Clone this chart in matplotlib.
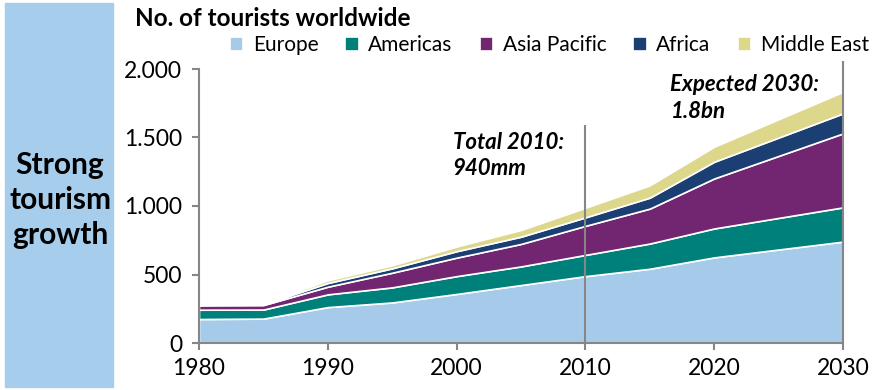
import matplotlib.pyplot as plt
from matplotlib.patches import Rectangle

plt.rcParams['font.family'] = ['Lato', 'DejaVu Sans']

years = [1980, 1985, 1990, 1995, 2000, 2005, 2010, 2015, 2020, 2030]
europe = [175, 178, 262, 296, 358, 423, 488, 542, 625, 740]
americas = [68, 66, 93, 110, 130, 136, 155, 184, 211, 250]
asia_pacific = [32, 33, 56, 107, 135, 164, 212, 255, 365, 540]
africa = [4, 6, 27, 32, 47, 53, 62, 80, 122, 146]
middle_east = [3, 5, 20, 22, 34, 49, 70, 90, 110, 157]

names = ['Europe', 'Americas', 'Asia Pacific', 'Africa', 'Middle East']
colors = ['#A6CBEA', '#00807A', '#722570', '#1B3F72', '#DDD78C']

yticks = [0, 500, 1000, 1500, 2000]
ytick_labels = ['0', '500', '1.000', '1.500', '2.000']
xticks = [1980, 1990, 2000, 2010, 2020, 2030]

fig = plt.figure(figsize=(8.75, 3.9), dpi=100)

# blue side panel
fig.patches.append(Rectangle((5 / 875, 3 / 390), 108 / 875, 384 / 390,
                             transform=fig.transFigure, color='#A6CDEB', zorder=0))
fig.text(60 / 875, 1 - 200 / 390, 'Strong\ntourism\ngrowth', ha='center', va='center',
         fontsize=21.5, fontweight='bold', linespacing=1.3)

fig.text(135 / 875, 1 - 18 / 390, 'No. of tourists worldwide', ha='left', va='center',
         fontsize=17.5, fontweight='bold')

ax = fig.add_axes([199 / 875, 1 - 343 / 390, 644 / 875, 274 / 390])
polys = ax.stackplot(years, europe, americas, asia_pacific, africa, middle_east,
                     colors=colors, labels=names, edgecolor='white', linewidth=1.2)

ax.set_xlim(1980, 2030)
ax.set_ylim(0, 2000)
ax.set_xticks(xticks)
ax.set_yticks(yticks)
ax.set_yticklabels(ytick_labels)
for s in ['top', 'right']:
    ax.spines[s].set_visible(False)
for s in ['left', 'bottom']:
    ax.spines[s].set_color('#868686')
    ax.spines[s].set_linewidth(1.5)
ax.tick_params(colors='#868686', labelcolor='black', labelsize=16.5, length=5, width=1.5)
ax.tick_params(axis='x', pad=6)
ax.tick_params(axis='y', pad=7)

ax.vlines(2010, 0, 1590, color='#868686', linewidth=1.5)
ax.vlines(2030, 0, 2060, color='#868686', linewidth=1.5, clip_on=False)

ax.text(1999.7, 1540, 'Total 2010:\n940mm', fontsize=16, fontweight='bold',
        fontstyle='italic', ha='left', va='top', linespacing=1.3)
ax.text(2016.6, 1960, 'Expected 2030:\n1.8bn', fontsize=16, fontweight='bold',
        fontstyle='italic', ha='left', va='top', linespacing=1.3)

fig.legend(handles=polys, labels=names, loc='center right', ncol=5,
           bbox_to_anchor=(1.0, 1 - 45 / 390), frameon=False, fontsize=15,
           handlelength=0.65, handleheight=0.65, handletextpad=0.45, columnspacing=1.3,
           borderaxespad=0.0, borderpad=0.3)

fig.savefig('out.png', dpi=100)
